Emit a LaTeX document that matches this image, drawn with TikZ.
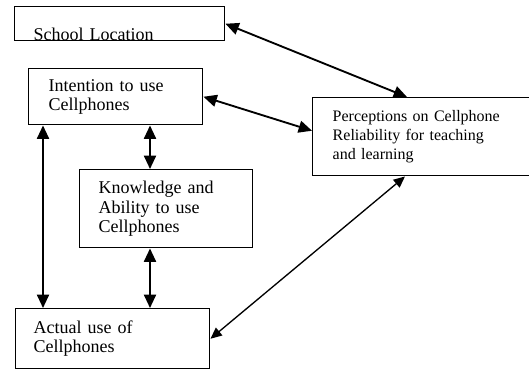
\documentclass[tikz,border=0pt]{standalone}
\usepackage{fontspec}
\setmainfont{Liberation Serif}
\usepackage{tikz}
\usetikzlibrary{arrows.meta, calc}

\begin{document}
\begin{tikzpicture}[x=0.75pt, y=-0.75pt,
    box/.style={draw, line width=1.1pt, anchor=north west, align=left,
                inner ysep=0pt, font=\fontsize{13.5}{14.6}\selectfont},
    arr/.style={{Triangle[length=10pt,width=9pt]}-{Triangle[length=10pt,width=9pt]},
                line width=1.4pt},
    thinarr/.style={{Triangle[length=8.5pt,width=7.5pt]}-{Triangle[length=8.5pt,width=7.5pt]},
                line width=1pt},
]
    \useasboundingbox (0,0) rectangle (529,369);

    \node[box, minimum width=157.5pt, minimum height=25.5pt, inner xsep=14.25pt,
          text width=129pt, text height=24.5pt, text depth=0pt, inner ysep=0.4pt]
          (sch) at (14,6) {School Location};
    \node[box, minimum width=130.5pt, minimum height=42pt, inner xsep=15pt,
          text width=100.5pt] (int) at (28,68) {Intention to use\\Cellphones};
    \node[box, minimum width=129.75pt, minimum height=58.5pt, inner xsep=14.25pt,
          text width=101.25pt] (kno) at (79,169) {Knowledge and\\Ability to use\\Cellphones};
    \node[box, minimum width=145.5pt, minimum height=45pt, inner xsep=13.5pt,
          text width=118.5pt] (act) at (15,308) {Actual use of\\Cellphones};
    \node[box, minimum width=171pt, minimum height=58.5pt, inner xsep=15pt,
          text width=141pt, font=\fontsize{12}{14}\selectfont]
          (per) at (312,97) {Perceptions on Cellphone\\Reliability for teaching\\and learning};

    \coordinate (lft) at (43,0);
    \coordinate (mid) at (150,0);

    \draw[arr] (sch.east) -- ([xshift=71.25pt]per.north west);
    \draw[arr] (int.east) -- ([yshift=4.5pt]per.west);
    \draw[arr] (int.south -| lft) -- (act.north -| lft);
    \draw[arr] (int.south -| mid) -- (kno.north -| mid);
    \draw[arr] (kno.south -| mid) -- (act.north -| mid);
    \draw[thinarr] (act.east) -- ([xshift=69.75pt]per.south west);
\end{tikzpicture}
\end{document}
